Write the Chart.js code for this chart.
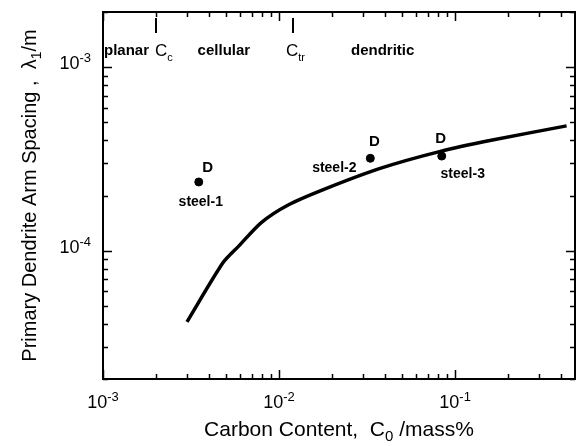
<!DOCTYPE html>
<html>
<head>
<meta charset="utf-8">
<script src="https://cdn.jsdelivr.net/npm/chart.js@4.4.0/dist/chart.umd.min.js"></script>
<style>
  body { margin: 0; background: #fff; }
  #wrap { width: 580px; height: 446px; }
</style>
</head>
<body>
<div id="wrap"><canvas id="spacingChart" width="580" height="446"></canvas></div>
<script>
// calculated curve: carbon content (mass%) vs primary arm spacing (m)
var curveCarbon = [0.0030, 0.0048, 0.0059, 0.0079, 0.0112, 0.0180, 0.0375, 0.0815, 0.163, 0.43];
var curveSpacing = [4.1e-5, 8.6e-5, 1.06e-4, 1.42e-4, 1.77e-4, 2.16e-4, 2.81e-4, 3.47e-4, 4.01e-4, 4.79e-4];

// measured steels
var steelNames = ["steel-1", "steel-2", "steel-3"];
var steelCarbon = [0.0035, 0.033, 0.084];
var steelSpacing = [2.37e-4, 3.19e-4, 3.28e-4];

// axis labels (powers of ten)
var xTickValues = [1e-3, 1e-2, 1e-1];
var yTickValues = [1e-4, 1e-3];

// morphology regions and transition compositions
var regionNames = ["planar", "cellular", "dendritic"];
var regionCarbon = [0.00136, 0.00486, 0.0388];
var limitSubs = ["c", "tr"];
var limitCarbon = [0.002, 0.012];

var canvas = document.getElementById("spacingChart");
var ctx = canvas.getContext("2d");
var FONT = "'Liberation Sans', Arial, sans-serif";

// offsets (px) of "D" and name labels from each steel dot
var steelLabelOffsets = [
  { d: [9, -15], n: [2, 19] },
  { d: [4, -17], n: [-36, 9] },
  { d: [-1, -18], n: [21, 17] },
];
var limitLabelShift = [0, -6];

function logTicks(min, max) {
  var out = [];
  var lo = Math.floor(Math.log10(min));
  var hi = Math.ceil(Math.log10(max));
  for (var e = lo; e <= hi; e++) {
    for (var m = 1; m <= 9; m++) {
      var v = m * Math.pow(10, e);
      if (v >= min * 0.9999 && v <= max * 1.0001) {
        out.push({ v: v, major: m === 1 });
      }
    }
  }
  return out;
}

// draw runs of text with sub/superscripts; parts: [text, sizeScale, dy]
function drawParts(c, parts, x, y, size, weight, align) {
  var total = 0;
  var i;
  for (i = 0; i < parts.length; i++) {
    c.font = weight + " " + Math.round(size * parts[i][1]) + "px " + FONT;
    total += c.measureText(parts[i][0]).width;
  }
  var sx = x;
  if (align === "center") sx = x - total / 2;
  if (align === "right") sx = x - total;
  c.textAlign = "left";
  c.textBaseline = "alphabetic";
  for (i = 0; i < parts.length; i++) {
    c.font = weight + " " + Math.round(size * parts[i][1]) + "px " + FONT;
    c.fillText(parts[i][0], sx, y + parts[i][2]);
    sx += c.measureText(parts[i][0]).width;
  }
}

var framePlugin = {
  id: "frameAndLabels",
  afterDraw: function (chart) {
    var c = chart.ctx;
    var a = chart.chartArea;
    var xs = chart.scales.x;
    var ys = chart.scales.y;
    var i, px, py, len;

    c.save();
    c.strokeStyle = "#000";
    c.fillStyle = "#000";
    c.lineWidth = 2;
    c.strokeRect(a.left, a.top, a.right - a.left, a.bottom - a.top);

    // inward ticks on all four sides
    c.lineWidth = 1.5;
    var xt = logTicks(xs.min, xs.max);
    for (i = 0; i < xt.length; i++) {
      px = Math.round(xs.getPixelForValue(xt[i].v)) + 0.5;
      len = xt[i].major ? 9 : 5;
      c.beginPath();
      c.moveTo(px, a.bottom);
      c.lineTo(px, a.bottom - len);
      c.moveTo(px, a.top);
      c.lineTo(px, a.top + len);
      c.stroke();
    }
    var yt = logTicks(ys.min, ys.max);
    for (i = 0; i < yt.length; i++) {
      py = Math.round(ys.getPixelForValue(yt[i].v)) + 0.5;
      len = yt[i].major ? 9 : 5;
      c.beginPath();
      c.moveTo(a.left, py);
      c.lineTo(a.left + len, py);
      c.moveTo(a.right, py);
      c.lineTo(a.right - len, py);
      c.stroke();
    }

    // tick labels 10^n
    for (i = 0; i < xTickValues.length; i++) {
      px = xs.getPixelForValue(xTickValues[i]);
      var ex = String(Math.round(Math.log10(xTickValues[i])));
      drawParts(c, [["10", 1, 0], [ex, 0.72, -7]], px, a.bottom + 29, 18, "normal", "center");
    }
    for (i = 0; i < yTickValues.length; i++) {
      py = ys.getPixelForValue(yTickValues[i]);
      var ey = String(Math.round(Math.log10(yTickValues[i])));
      drawParts(c, [["10", 1, 0], [ey, 0.72, -7]], a.left - 12, py + 2, 18, "normal", "right");
    }

    // axis titles
    drawParts(
      c,
      [["Carbon Content,  C", 1, 0], ["0", 0.7, 5], [" /mass%", 1, 0]],
      (a.left + a.right) / 2, a.bottom + 57, 21, "normal", "center"
    );
    c.save();
    c.translate(36, (a.top + a.bottom) / 2);
    c.rotate(-Math.PI / 2);
    drawParts(
      c,
      [["Primary Dendrite Arm Spacing ,  \u03bb", 1, 0], ["1", 0.7, 5], ["/m", 1, 0]],
      0, 0, 20, "normal", "center"
    );
    c.restore();

    // morphology regions
    for (i = 0; i < regionNames.length; i++) {
      px = xs.getPixelForValue(regionCarbon[i]);
      drawParts(c, [[regionNames[i], 1, 0]], px, a.top + 43, 15, "bold", "center");
    }
    c.lineWidth = 2;
    for (i = 0; i < limitCarbon.length; i++) {
      px = Math.round(xs.getPixelForValue(limitCarbon[i]));
      c.beginPath();
      c.moveTo(px, a.top + 6);
      c.lineTo(px, a.top + 21);
      c.stroke();
      drawParts(c, [["C", 1, 0], [limitSubs[i], 0.65, 5]], px + limitLabelShift[i] - 1, a.top + 44, 17, "normal", "left");
    }

    // steel labels
    for (i = 0; i < steelNames.length; i++) {
      px = xs.getPixelForValue(steelCarbon[i]);
      py = ys.getPixelForValue(steelSpacing[i]);
      var o = steelLabelOffsets[i];
      drawParts(c, [["D", 1, 0]], px + o.d[0], py + o.d[1] + 5, 15, "bold", "center");
      drawParts(c, [[steelNames[i], 1, 0]], px + o.n[0], py + o.n[1] + 5, 14, "bold", "center");
    }
    c.restore();
  },
};

var curvePoints = curveCarbon.map(function (v, i) {
  return { x: v, y: curveSpacing[i] };
});
var steelPoints = steelCarbon.map(function (v, i) {
  return { x: v, y: steelSpacing[i] };
});

var spacingChart = new Chart(ctx, {
  type: "scatter",
  data: {
    datasets: [
      {
        label: "calculated",
        data: curvePoints,
        showLine: true,
        borderColor: "#000",
        borderWidth: 3.5,
        pointRadius: 0,
        tension: 0.25,
      },
      {
        label: "steels",
        data: steelPoints,
        backgroundColor: "#000",
        borderColor: "#000",
        pointRadius: 4,
      },
    ],
  },
  options: {
    responsive: false,
    animation: false,
    layout: { padding: { left: 103, top: 12, right: 1, bottom: 67 } },
    plugins: {
      legend: { display: false },
      tooltip: { enabled: false },
    },
    scales: {
      x: { type: "logarithmic", min: 0.001, max: 0.48, display: false },
      y: { type: "logarithmic", min: 2e-5, max: 2e-3, display: false },
    },
  },
  plugins: [framePlugin],
});
</script>
</body>
</html>
